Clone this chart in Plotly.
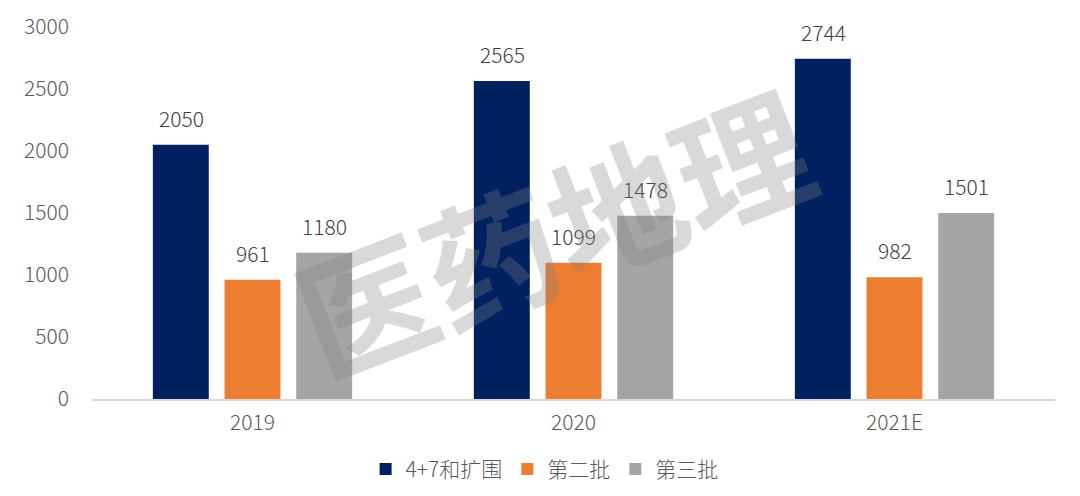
import plotly.graph_objects as go

categories = ["2019", "2020", "2021E"]
series_names = ["4+7和扩围", "第二批", "第三批"]
values_47 = [2050, 2565, 2744]
values_second = [961, 1099, 982]
values_third = [1180, 1478, 1501]
colors = ["#002060", "#ED7D31", "#A5A5A5"]
y_ticks = [0, 500, 1000, 1500, 2000, 2500, 3000]

FONT = "Noto Sans CJK SC, Noto Sans, sans-serif"
all_values = [values_47, values_second, values_third]

fig = go.Figure()
for name, vals, col in zip(series_names, all_values, colors):
    fig.add_trace(go.Bar(
        x=categories, y=vals, name=name, marker=dict(color=col, line=dict(width=0)),
    ))

# data labels above bars (x given as category index)
slot_px = 71.5
for i, vals in enumerate(all_values):
    for k, v in enumerate(vals):
        fig.add_annotation(
            x=k, y=v, xref="x", yref="y", text=str(v), showarrow=False,
            xshift=(i - 1) * slot_px, yshift=27, yanchor="middle",
            font=dict(size=21, color="#404040", family=FONT, weight=300),
        )

# watermark
fig.add_annotation(
    text="<b>医药地理</b>", xref="paper", yref="paper", x=0.478, y=0.46,
    showarrow=False, textangle=-21,
    font=dict(size=134, color="rgba(128,128,128,0.30)", family=FONT),
)

fig.update_layout(
    width=1080, height=496,
    margin=dict(l=84, r=33, t=19, b=105, autoexpand=False),
    paper_bgcolor="white", plot_bgcolor="white",
    barmode="group", bargap=0.33, bargroupgap=0.22,
    font=dict(family=FONT, size=21, color="#595959", weight=300),
    showlegend=True,
    legend=dict(orientation="h", x=0.47, xanchor="center", y=-0.134, yanchor="top",
                font=dict(size=21, color="#595959", weight=300),
                traceorder="normal"),
)
fig.update_xaxes(type="category", range=[-0.5, len(categories) - 0.5],
                 showline=True, linecolor="#D9D9D9", linewidth=1.5, ticks="",
                 tickfont=dict(size=21, color="#595959", weight=300), showgrid=False,
                 ticklabelstandoff=4)
fig.update_yaxes(range=[0, 3000], tickvals=y_ticks, showgrid=False, zeroline=False,
                 showline=False, ticks="", tickfont=dict(size=21, color="#595959", weight=300),
                 ticklabelstandoff=22)

fig.write_html("out.html")
